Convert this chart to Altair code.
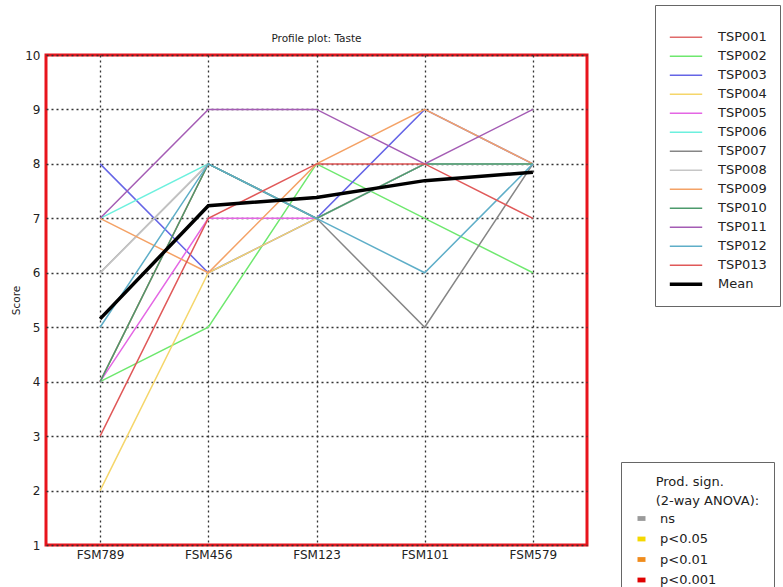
import altair as alt
import pandas as pd

# Products in tasting order (x axis)
products = ["FSM789", "FSM456", "FSM123", "FSM101", "FSM579"]

# Taste scores per panellist, one value per product
tasters = ["TSP001", "TSP002", "TSP003", "TSP004", "TSP005", "TSP006", "TSP007",
           "TSP008", "TSP009", "TSP010", "TSP011", "TSP012", "TSP013"]
tsp001 = [4, 8, 7, 8, 8]
tsp002 = [4, 5, 8, 7, 6]
tsp003 = [8, 6, 7, 9, 8]
tsp004 = [2, 6, 7, 8, 8]
tsp005 = [4, 7, 7, 8, 8]
tsp006 = [7, 8, 7, 8, 8]
tsp007 = [6, 8, 7, 5, 8]
tsp008 = [6, 8, 7, 8, 8]
tsp009 = [7, 6, 8, 9, 8]
tsp010 = [4, 8, 7, 8, 8]
tsp011 = [7, 9, 9, 8, 9]
tsp012 = [5, 8, 7, 6, 8]
tsp013 = [3, 7, 8, 8, 7]
scores = [tsp001, tsp002, tsp003, tsp004, tsp005, tsp006, tsp007,
          tsp008, tsp009, tsp010, tsp011, tsp012, tsp013]

taster_colors = ["#e06a6a", "#6ee86e", "#6565e6", "#f5d66a", "#e466e4", "#6cf0de",
                 "#868686", "#c6c6c6", "#f4a266", "#4c9a6c", "#a45cb4", "#5eaec8",
                 "#e05858"]
mean_label = "Mean"

# Product significance classes (2-way ANOVA)
sig_levels = ["ns", "p<0.05", "p<0.01", "p<0.001"]
sig_colors = ["#9a9a9a", "#f5d800", "#f08c1c", "#e00000"]

FONT = "DejaVu Sans"
TEXT = "#222222"
INDENT = "\u200b" + "\u00a0" * 5

rows = [
    {"product": p, "series": t, "score": s}
    for t, vals in zip(tasters, scores)
    for p, s in zip(products, vals)
]
df = pd.DataFrame(rows)
sig_df = pd.DataFrame({"sig": sig_levels})

series_domain = tasters + [mean_label]
color_scale = alt.Scale(domain=series_domain, range=taster_colors + ["#000000"])
width_scale = alt.Scale(type="ordinal", domain=series_domain,
                        range=[1.5] * len(tasters) + [3.5])

# fixed-height rows keep the long line symbols from spreading the entries apart
series_legend = alt.Legend(
    title="\u00a0", titleFontSize=4, titlePadding=7,
    orient="none", legendX=609, legendY=-50,
    padding=13, strokeColor="#666666", fillColor="white",
    symbolType="stroke", symbolSize=1050, clipHeight=16.5, rowPadding=2.0,
    labelFont=FONT, labelFontSize=13, labelColor=TEXT, labelOffset=14,
)

x_enc = alt.X(
    "product:N", sort=products,
    scale=alt.Scale(type="point", padding=0.5),
    axis=alt.Axis(title=None, labelAngle=0, labelPadding=4),
)
y_enc = alt.Y(
    "score:Q",
    scale=alt.Scale(domain=[1, 10], nice=False, zero=False),
    axis=alt.Axis(title="Score", values=list(range(1, 11)), labelPadding=6,
                  titleFontSize=10.5, titleFontWeight="normal", titlePadding=3),
)

base = alt.Chart(df)

panel_lines = base.mark_line().encode(
    x=x_enc, y=y_enc,
    color=alt.Color("series:N", scale=color_scale, legend=series_legend),
    strokeWidth=alt.StrokeWidth("series:N", scale=width_scale, legend=series_legend),
)

mean_line = base.transform_aggregate(
    score="mean(score)", groupby=["product"]
).transform_calculate(
    series=f'"{mean_label}"'
).mark_line().encode(
    x=x_enc, y=y_enc,
    color=alt.Color("series:N", scale=color_scale, legend=series_legend),
    strokeWidth=alt.StrokeWidth("series:N", scale=width_scale, legend=series_legend),
)

sig_key = alt.Chart(sig_df).mark_point(filled=True, opacity=0).encode(
    fill=alt.Fill(
        "sig:N",
        scale=alt.Scale(domain=sig_levels, range=sig_colors),
        legend=alt.Legend(
            title=[INDENT + "Prod. sign.", INDENT + "(2-way ANOVA):"],
            orient="none", legendX=575, legendY=407,
            padding=14, strokeColor="#666666", fillColor="white",
            titleFont=FONT, titleFontSize=13, titleFontWeight="normal",
            titleColor=TEXT, titleLineHeight=19, titlePadding=4,
            symbolType="M-1,-0.6H1V0.6H-1Z", symbolSize=64,
            symbolStrokeWidth=0, symbolOpacity=1,
            labelFont=FONT, labelFontSize=13, labelColor=TEXT, labelOffset=12,
            rowPadding=6.5,
        ),
    )
)

# the title is laid out above the legend box, so dy brings it back over the panel
chart = alt.layer(panel_lines, mean_line, sig_key).resolve_scale(
    color="shared"
).properties(
    width=541, height=490,
    autosize=alt.AutoSizeParams(type="none"),
    padding={"left": 46, "top": 55, "right": 196, "bottom": 42},
    background="white",
    title=alt.TitleParams("Profile plot: Taste", font=FONT, fontSize=10.5,
                          fontWeight="normal", color=TEXT, offset=0, dy=40,
                          frame="group"),
).configure_view(
    stroke="#e8141c", strokeWidth=3, fill="white"
).configure_axis(
    labelFont=FONT, labelFontSize=12, labelColor=TEXT,
    titleFont=FONT, titleColor=TEXT,
    domain=False, ticks=False,
    grid=True, gridColor="#333333", gridDash=[2, 3], gridWidth=1.3, gridOpacity=1,
)

chart.save("out.html", embed_options={"renderer": "svg", "actions": False})
